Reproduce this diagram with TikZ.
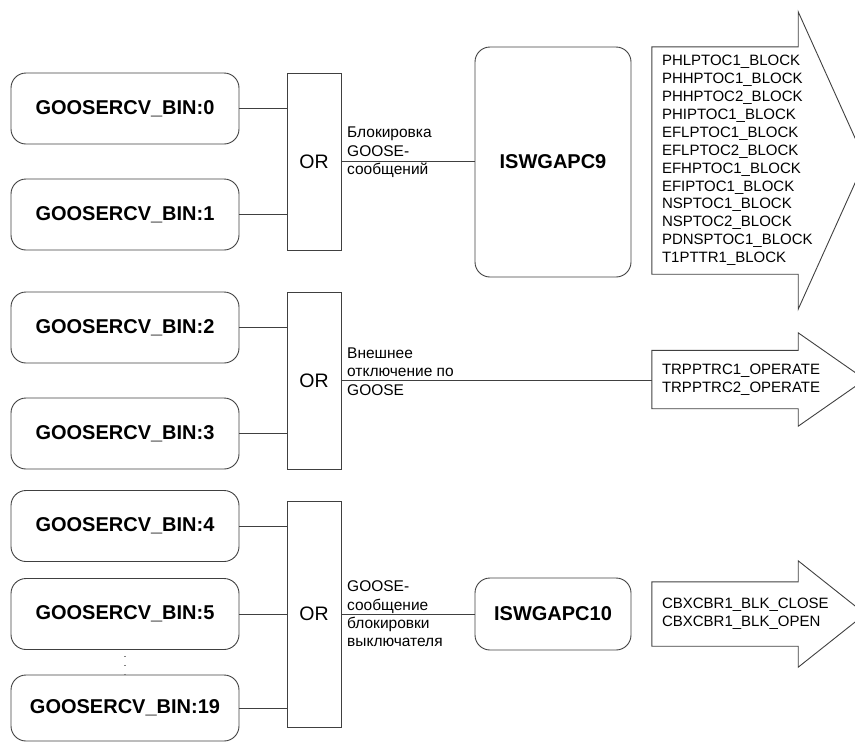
\documentclass[tikz,border=0pt]{standalone}
\usepackage{fontspec}
\setmainfont{Liberation Sans}
\usetikzlibrary{positioning,calc}

% wide block arrow drawn round a named list node (#2 = head overhang)
\newcommand{\outarrow}[2]{%
  \draw[wire] (#1.south west) -- (#1.north west) -- (#1.north east)
    -- ++(0,-#2) -- ($(#1.east)+(67,0)$) -- ($(#1.south east)+(0,#2)$)
    -- (#1.south east) -- cycle;}

\tikzset{
  wire/.style={draw=black!75,line width=0.9pt},
  binbox/.style={wire,rounded corners=15pt,minimum width=228pt,minimum height=71pt,
    font=\fontsize{20}{24}\selectfont\bfseries},
  orbox/.style={wire,minimum width=54pt,font=\fontsize{19.5}{23}\selectfont},
  apcbox/.style={wire,rounded corners=15pt,minimum width=156pt,
    font=\fontsize{20}{24}\selectfont\bfseries},
  sigtext/.style={anchor=west,align=left,inner sep=0pt,
    font=\fontsize{15.5}{18.3}\selectfont},
  outlist/.style={text width=126pt,inner xsep=10pt,inner ysep=0pt,align=left,
    font=\fontsize{15}{17.9}\selectfont,
    execute at begin node={\hyphenpenalty=10000\relax}}
}

\begin{document}
\begin{tikzpicture}[x=1pt,y=-1pt]
\clip (0,0) rectangle (855,742);

% blocking group
\node[binbox] (bin0) at (125,108.5) {GOOSERCV\_BIN:0};
\node[binbox] (bin1) at (125,214.5) {GOOSERCV\_BIN:1};
\node[orbox,minimum height=177pt] (or1) at (314,161.5) {OR};
\node[apcbox,minimum height=230pt] (apc9) at (553,162) {ISWGAPC9};
\node[sigtext] (sig1) at (347,152.5) {Блокировка\\GOOSE-\\сообщений};
\node[outlist,minimum height=227pt] (list9) at (725,160.5) {%
  PHLPTOC1\_BLOCK\\PHHPTOC1\_BLOCK\\PHHPTOC2\_BLOCK\\PHIPTOC1\_BLOCK\\
  EFLPTOC1\_BLOCK\\EFLPTOC2\_BLOCK\\EFHPTOC1\_BLOCK\\EFIPTOC1\_BLOCK\\
  NSPTOC1\_BLOCK\\NSPTOC2\_BLOCK\\PDNSPTOC1\_BLOCK\\T1PTTR1\_BLOCK};
\draw[wire] (bin0.east) -- (bin0.east -| or1.west);
\draw[wire] (bin1.east) -- (bin1.east -| or1.west);
\draw[wire] (or1.east) -- (or1.east -| apc9.west);
\outarrow{list9}{35}

% external trip group
\node[binbox] (bin2) at (125,327.5) {GOOSERCV\_BIN:2};
\node[binbox] (bin3) at (125,433.5) {GOOSERCV\_BIN:3};
\node[orbox,minimum height=177pt] (or2) at (314,380.5) {OR};
\node[sigtext] (sig2) at (347,371.5) {Внешнее\\отключение по\\GOOSE};
\node[outlist,minimum height=58pt] (list2) at (725,379.5) {%
  TRPPTRC1\_OPERATE\\TRPPTRC2\_OPERATE};
\draw[wire] (bin2.east) -- (bin2.east -| or2.west);
\draw[wire] (bin3.east) -- (bin3.east -| or2.west);
\draw[wire] (or2.east) -- (or2.east -| list2.west);
\outarrow{list2}{17.5}

% breaker blocking group
\node[binbox] (bin4) at (125,526) {GOOSERCV\_BIN:4};
\node[binbox] (bin5) at (125,614) {GOOSERCV\_BIN:5};
\node[binbox,minimum height=66pt] (bin19) at (125,708) {GOOSERCV\_BIN:19};
\node[orbox,minimum height=226pt] (or3) at (314,614) {OR};
\node[apcbox,minimum height=72pt] (apc10) at (553,614) {ISWGAPC10};
\node[sigtext] (sig3) at (347,614) {GOOSE-\\сообщение\\блокировки\\выключателя};
\node[outlist,minimum height=64pt] (list3) at (725,614) {%
  CBXCBR1\_BLK\_CLOSE\\CBXCBR1\_BLK\_OPEN};
\draw[wire] (bin4.east) -- (bin4.east -| or3.west);
\draw[wire] (bin5.east) -- (bin5.east -| or3.west);
\draw[wire] (bin19.east) -- (bin19.east -| or3.west);
\draw[wire] (or3.east) -- (or3.east -| apc10.west);
\draw[gray,line width=1.2pt,dash pattern=on 1.2pt off 7.8pt,dash phase=-6pt]
  (bin5.south) -- (bin19.north);
\outarrow{list3}{21}
\end{tikzpicture}
\end{document}
